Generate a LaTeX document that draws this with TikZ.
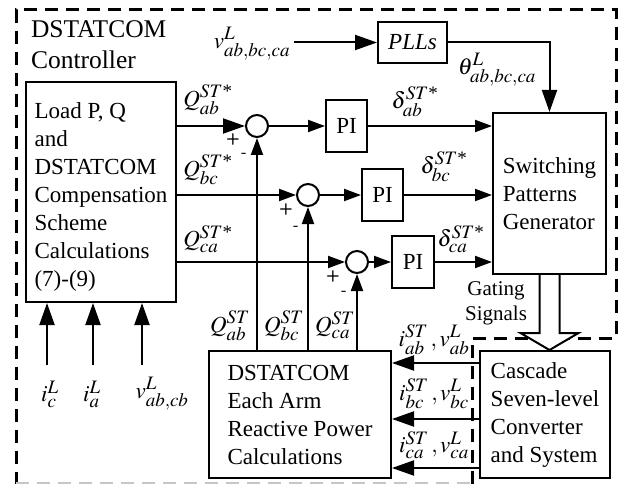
\documentclass[tikz,border=0pt]{standalone}
\usepackage{amsmath}
\usepackage{mathptmx}
\usepackage{fontspec}
\setmainfont{Liberation Serif}
\usetikzlibrary{arrows.meta}
\DeclareMathSizes{23}{23}{19}{15}

\newcommand{\refst}{ST\text{*}}

\begin{document}
\begin{tikzpicture}[x=1pt,y=-1pt,line width=2pt,
    font=\fontsize{23}{28}\selectfont,
    box/.style={draw,rectangle,align=left,inner sep=0pt},
    sumc/.style={draw,circle,minimum size=22pt,inner sep=0pt},
    arr/.style={-{Triangle[length=17pt,width=12pt]}},
    bigarr/.style={-{Triangle[length=22pt,width=15pt]}},
    dashline/.style={dash pattern=on 13pt off 8pt,line width=3pt},
    sign/.style={font=\fontsize{16}{16}\selectfont\sffamily\bfseries}]
    \useasboundingbox (0,0) rectangle (621,484);

    % controller border
    \draw[dashline] (472,484) -- (472,338) -- (616,338) -- (616,10) -- (16,10) -- (16,484);
    \draw[dashline,gray!45] (16,483) -- (472,483);
    \node[anchor=north west,align=left,inner sep=0pt,font=\fontsize{25.5}{31}\selectfont] (title) at (30,20) {DSTATCOM\\Controller};

    % blocks
    \node[box,minimum width=150pt,minimum height=220pt] (load) at (101,192)
        {\rule{0pt}{26pt}Load P, Q\\and\\DSTATCOM\\Compensation\\Scheme\\Calculations\\(7)-(9)};
    \node[box,minimum width=69pt,minimum height=41pt,font=\fontsize{23}{28}\selectfont\itshape] (pll) at (412.5,42.5) {PLLs};
    \node[box,minimum width=113pt,minimum height=161pt] (sw) at (549.5,193.5) {Switching\\Patterns\\Generator};
    \node[box,minimum width=182pt,minimum height=127pt] (arm) at (300,414.5) {DSTATCOM\\Each Arm\\Reactive Power\\Calculations};
    \node[box,minimum width=130pt,minimum height=127pt] (conv) at (545,414.5) {Cascade\\Seven-level\\Converter\\and System};

    \node[sumc] (s1) at (257,126) {};
    \node[sumc] (s2) at (308,195) {};
    \node[sumc] (s3) at (357,262) {};
    \node[box,minimum width=41pt,minimum height=52pt,align=center] (pi1) at (346.5,126) {PI};
    \node[box,minimum width=41pt,minimum height=52pt,align=center] (pi2) at (382.5,195) {PI};
    \node[box,minimum width=42pt,minimum height=52pt,align=center] (pi3) at (413,262) {PI};

    % PLL path
    \node (vin) at (252,44) {$v_{ab,bc,ca}^{L}$};
    \draw[bigarr] (vin.east |- pll) -- (pll);
    \draw[bigarr] (pll) -| (sw.north);
    \node (th) at (497,70) {$\theta_{ab,bc,ca}^{L}$};

    % reference rows
    \draw[bigarr] (load.east |- s1) -- (s1);
    \draw[arr] (s1) -- (pi1);
    \draw[arr] (pi1) -- (sw.west |- pi1);
    \draw[arr] (load.east |- s2) -- (s2);
    \draw[arr] (s2) -- (pi2);
    \draw[arr] (pi2) -- (sw.west |- pi2);
    \draw[arr] (load.east |- s3) -- (s3);
    \draw[arr] (s3) -- (pi3);
    \draw[arr] (pi3) -- (sw.west |- pi3);

    \node (qra) at (208,100) {$Q_{ab}^{\refst}$};
    \node (qrb) at (208,170) {$Q_{bc}^{\refst}$};
    \node (qrc) at (208,239) {$Q_{ca}^{\refst}$};
    \node (da) at (415,102) {$\delta_{ab}^{\refst}$};
    \node (db) at (444,167) {$\delta_{bc}^{\refst}$};
    \node (dc) at (461,239) {$\delta_{ca}^{\refst}$};

    % signs
    \node[sign] (p1) at (233,140) {+};
    \node[sign] (m1) at (244,155) {-};
    \node[sign] (p2) at (286,209) {+};
    \node[sign] (m2) at (296,228) {-};
    \node[sign] (p3) at (333,276) {+};
    \node[sign] (m3) at (344,293) {-};

    % feedback
    \draw[arr] (s1 |- arm.north) -- (s1);
    \draw[arr] (s2 |- arm.north) -- (s2);
    \draw[arr] (s3 |- arm.north) -- (s3);
    \node (qa) at (230,326) {$Q_{ab}^{ST}$};
    \node (qb) at (284,326) {$Q_{bc}^{ST}$};
    \node (qc) at (335,325) {$Q_{ca}^{ST}$};

    % load inputs
    \coordinate (t1) at (47,365);
    \coordinate (t2) at (93,365);
    \coordinate (t3) at (142,365);
    \draw[bigarr] (t1) -- (t1 |- load.south);
    \draw[bigarr] (t2) -- (t2 |- load.south);
    \draw[bigarr] (t3) -- (t3 |- load.south);
    \node (ic) at (50,394) {$i_{c}^{L}$};
    \node (ia) at (92,394) {$i_{a}^{L}$};
    \node (vl) at (162,394) {$v_{ab,cb}^{L}$};

    % gating signals
    \draw[fill=white] ([xshift=-10pt]sw.south) -- ++(0,58) -- ++(-19,0) -- ++(29,17)
        -- ++(29,-17) -- ++(-19,0) -- ([xshift=10pt]sw.south);
    \node[font=\fontsize{21}{25}\selectfont,align=center] (gate) at (496,303) {Gating\\Signals};

    % measurements
    \draw[bigarr] ([yshift=51.5pt]conv.west) -- ([yshift=51.5pt]arm.east);
    \draw[bigarr] ([yshift=-4.5pt]conv.west) -- ([yshift=-4.5pt]arm.east);
    \draw[bigarr] ([yshift=-53.5pt]conv.west) -- ([yshift=-53.5pt]arm.east);
    \node (mab) at (434,340) {$i_{ab}^{ST}\,,v_{ab}^{L}$};
    \node (mbc) at (434,394) {$i_{bc}^{ST}\,,v_{bc}^{L}$};
    \node (mca) at (434,445) {$i_{ca}^{ST}\,,v_{ca}^{L}$};
\end{tikzpicture}
\end{document}
